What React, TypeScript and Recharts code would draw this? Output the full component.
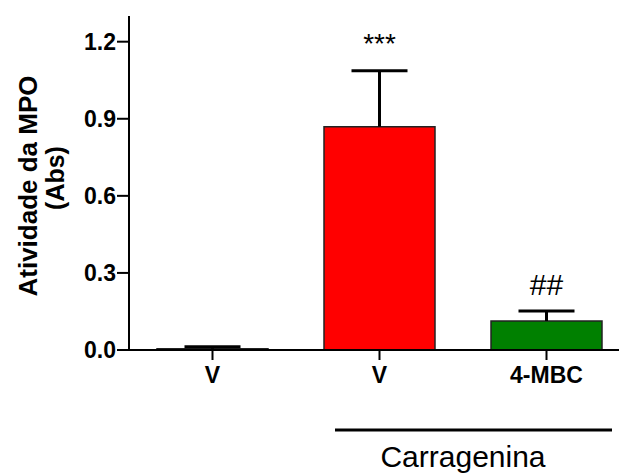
import { BarChart, Bar, XAxis, YAxis, Cell, ReferenceDot, Customized } from "recharts";

const groupIds = ["veh", "carr", "mbc"];
const groupLabels = ["V", "V", "4-MBC"];
const means = [0.005, 0.869, 0.113];
const sems = [0.008, 0.218, 0.039];
const marks = ["", "***", "##"];
const barColors = ["#000000", "#ff0000", "#008000"];
const yTicks = [0, 0.3, 0.6, 0.9, 1.2];

const FONT = "'Liberation Sans', Arial, sans-serif";

// plot geometry
const PLOT_LEFT = 129;
const BAND = 167;
const BAR = 111;
const CAP = 56;
const TOP = 16;
const BOTTOM = 350;
const W = PLOT_LEFT + BAND * groupIds.length + 10;
const H = 475;

const data = groupIds.map((id, i) => ({
  id,
  mean: means[i],
  sem: sems[i],
  top: means[i] + sems[i],
  mark: marks[i],
}));

// upper whisker only (GraphPad style), drawn in the stacked segment above the bar
function Whisker(props: any) {
  const { x, y, width, height } = props;
  const cx = x + width / 2;
  return (
    <g stroke="#000" strokeWidth={3}>
      <line x1={cx} x2={cx} y1={y + height} y2={y} />
      <line x1={cx - CAP / 2} x2={cx + CAP / 2} y1={y} y2={y} />
    </g>
  );
}

function Overlay() {
  const x1 = PLOT_LEFT + BAND + 39;
  const x2 = PLOT_LEFT + BAND * 3 - 18;
  return (
    <g fontFamily={FONT} fill="#000">
      <text transform="translate(37,186) rotate(-90)" textAnchor="middle" fontSize={26} fontWeight="bold">
        Atividade da MPO
      </text>
      <text transform="translate(64,178) rotate(-90)" textAnchor="middle" fontSize={25} fontWeight="bold">
        (Abs)
      </text>
      <line x1={x1} x2={x2} y1={430} y2={430} stroke="#000" strokeWidth={3} />
      <text x={463} y={467} textAnchor="middle" fontSize={30}>
        Carragenina
      </text>
    </g>
  );
}

export default function App() {
  return (
    <div style={{ position: "fixed", left: 0, top: 0, width: 619, height: 475, overflow: "hidden", background: "#fff" }}>
      <BarChart
        width={W}
        height={H}
        data={data}
        margin={{ top: TOP, right: 10, bottom: H - BOTTOM - 40, left: 0 }}
        barSize={BAR}
      >
        <XAxis
          dataKey="id"
          tickFormatter={(v: string) => groupLabels[groupIds.indexOf(v)]}
          height={40}
          tickSize={10}
          tickMargin={7}
          axisLine={{ stroke: "#000", strokeWidth: 2 }}
          tickLine={{ stroke: "#000", strokeWidth: 2 }}
          tick={{ fontSize: 23, fontWeight: "bold", fill: "#000", fontFamily: FONT }}
        />
        <YAxis
          domain={[0, 1.3]}
          ticks={yTicks}
          width={PLOT_LEFT}
          tickFormatter={(v: number) => v.toFixed(1)}
          tickSize={12}
          tickMargin={1}
          axisLine={{ stroke: "#000", strokeWidth: 2 }}
          tickLine={{ stroke: "#000", strokeWidth: 2 }}
          tick={{ fontSize: 23, fontWeight: "bold", fill: "#000", fontFamily: FONT }}
        />
        <Bar dataKey="mean" stackId="s" stroke="#222" strokeWidth={1.5} isAnimationActive={false}>
          {data.map((d, i) => (
            <Cell key={d.id} fill={barColors[i]} />
          ))}
        </Bar>
        <Bar dataKey="sem" stackId="s" shape={Whisker} isAnimationActive={false} />
        {data
          .filter((d) => d.mark)
          .map((d) => (
            <ReferenceDot
              key={d.id}
              x={d.id}
              y={d.top}
              r={0}
              stroke="none"
              label={{
                value: d.mark,
                position: "top",
                offset: d.mark === "***" ? 18 : 16,
                fontSize: d.mark === "***" ? 28 : 30,
                fill: "#000",
                fontFamily: FONT,
              }}
            />
          ))}
        <Customized component={Overlay} />
      </BarChart>
    </div>
  );
}
